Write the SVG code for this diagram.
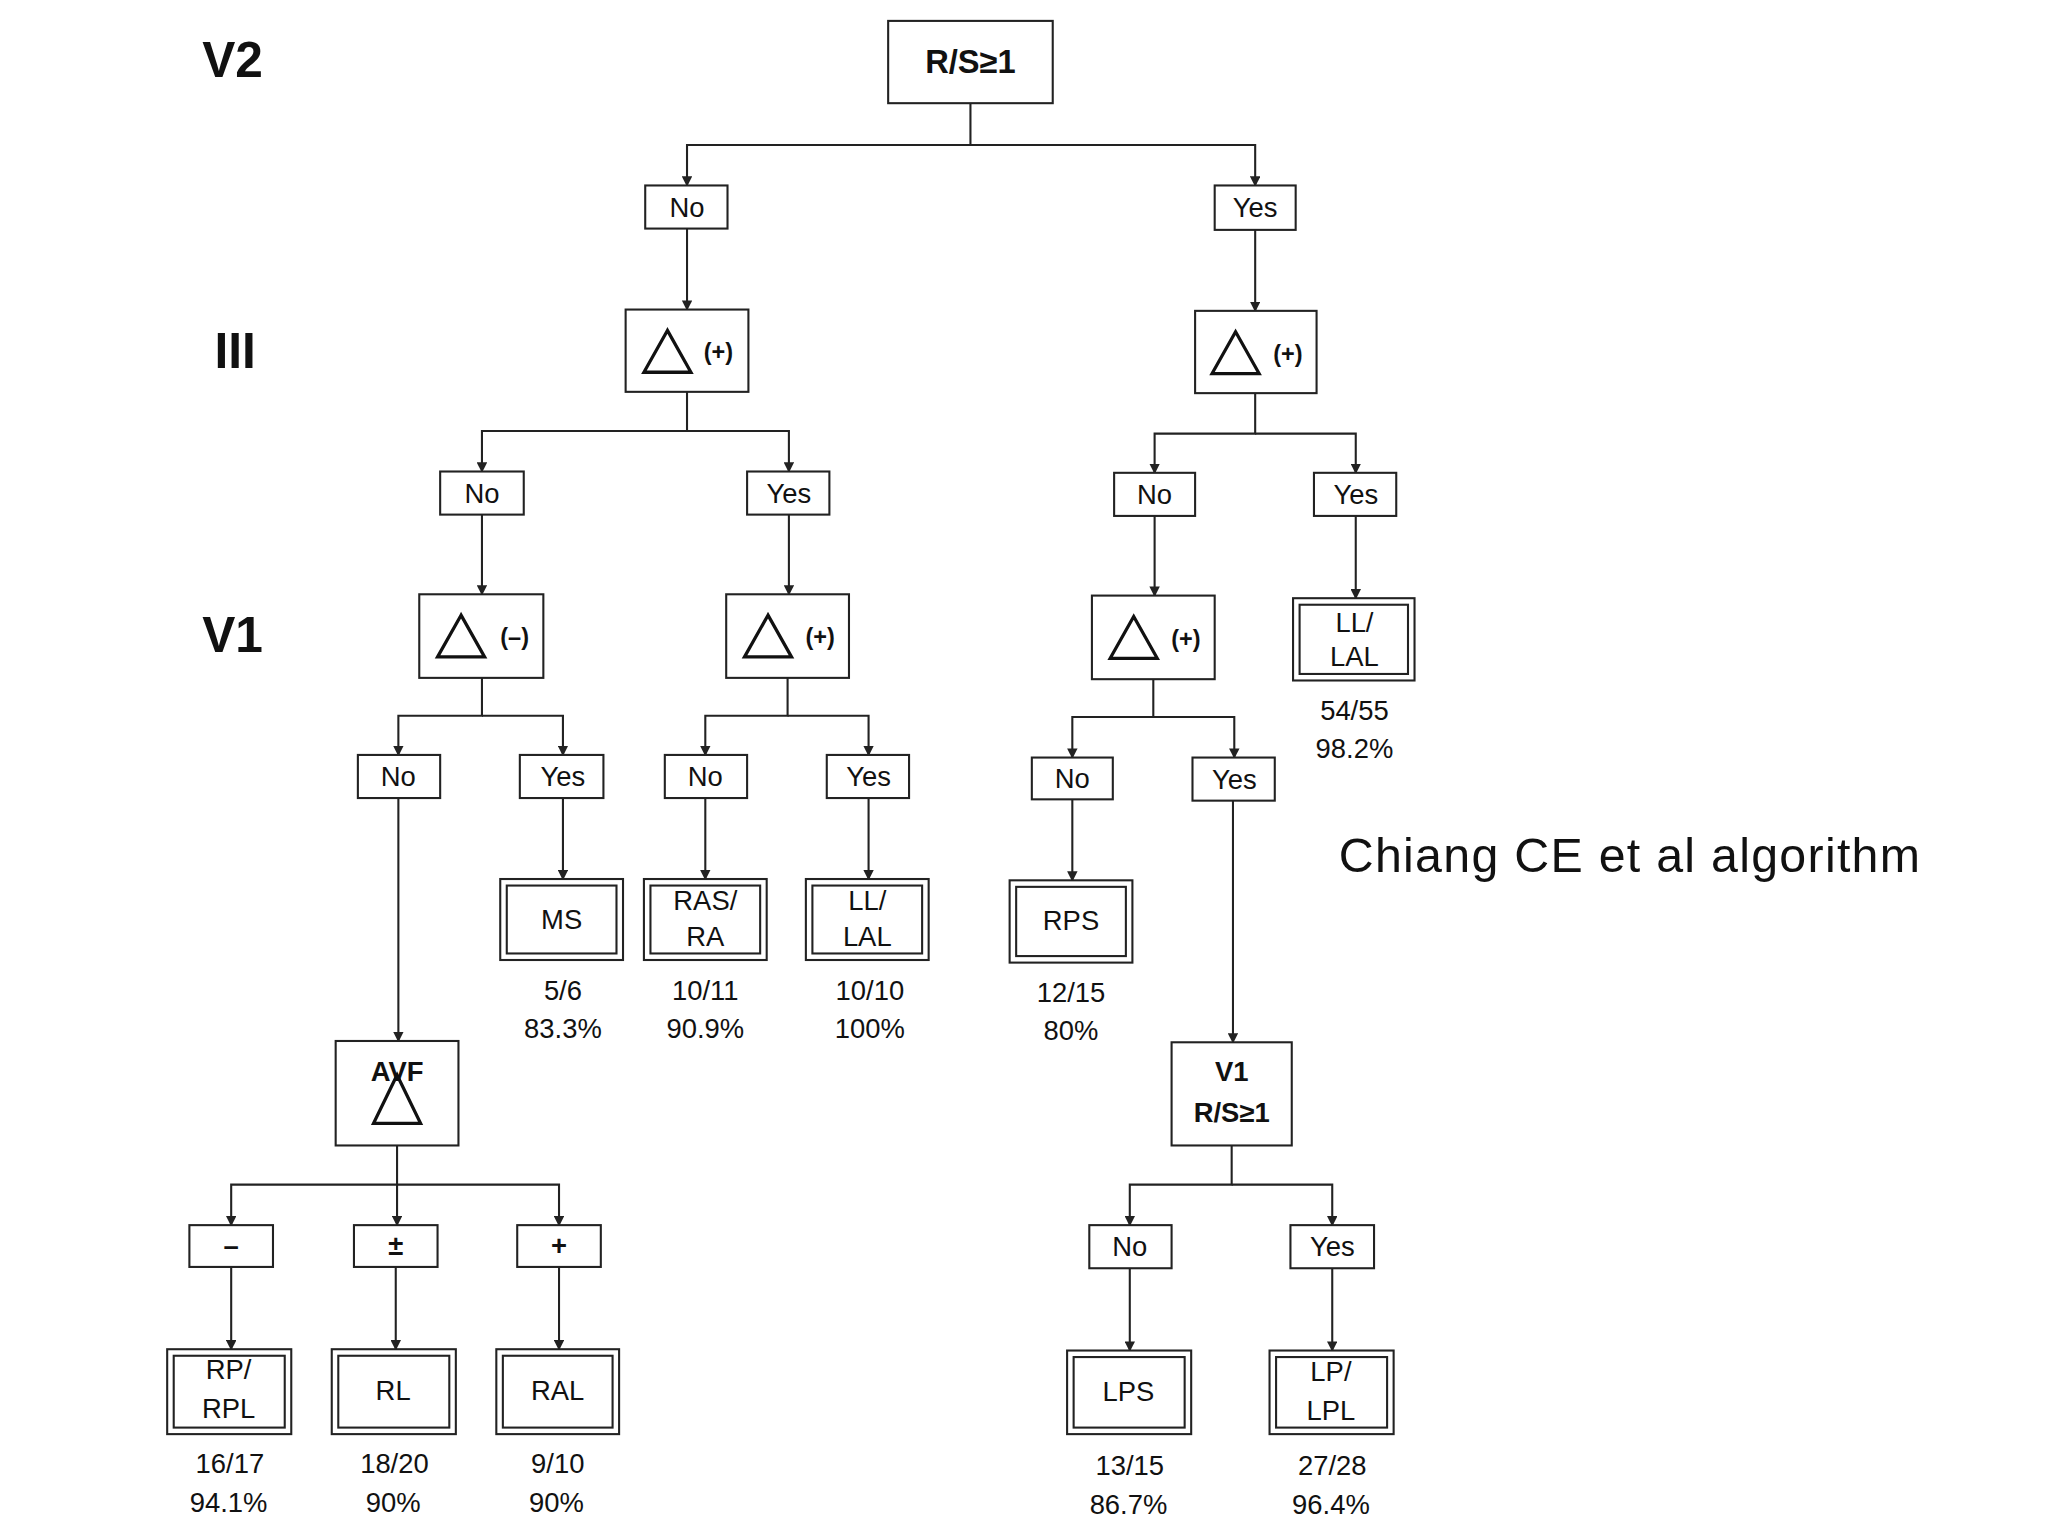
<svg xmlns="http://www.w3.org/2000/svg" width="2048" height="1536" viewBox="0 0 2048 1536">
<style>
.b{fill:#fff;stroke:#222;stroke-width:1.6}
.t{font-family:"Liberation Sans",Arial,sans-serif;font-weight:bold;font-size:21px;fill:#111;text-anchor:middle}
.s{font-family:"Liberation Sans",Arial,sans-serif;font-size:21px;fill:#111;text-anchor:middle}
.L{font-family:"Liberation Sans",Arial,sans-serif;font-weight:bold;font-size:38px;fill:#111;text-anchor:middle}
.c{fill:none;stroke:#222;stroke-width:1.6}
.tri{fill:none;stroke:#111;stroke-width:2.5}
.p{font-size:18px}
.big{font-size:25px}
</style>
<defs>
<marker id="a" markerWidth="8" markerHeight="8" refX="7" refY="4" orient="auto" markerUnits="userSpaceOnUse"><path d="M0,0 L8,4 L0,8 z" fill="#222"/></marker>
</defs>
<rect width="2048" height="1536" fill="#fff"/>
<g transform="scale(1.30612)">
<g id="levels">
<text class="L" x="178" y="59">V2</text>
<text class="L" x="180" y="282">III</text>
<text class="L" x="178" y="499">V1</text>
</g>
<g id="connectors" class="c" marker-end="url(#a)">
<path d="M743,79 V111 H526 V142"/><path d="M743,111 H961 V142"/>
<path d="M526,175 V237"/><path d="M961,176 V238"/>
<path d="M526,300 V330 H369 V361"/><path d="M526,330 H604 V361"/>
<path d="M961,301 V332 H884 V362"/><path d="M961,332 H1038 V362"/>
<path d="M369,394 V455"/><path d="M604,394 V455"/><path d="M884,395 V456"/><path d="M1038,395 V458"/>
<path d="M369,519 V548 H305 V578"/><path d="M369,548 H431 V578"/>
<path d="M603,519 V548 H540 V578"/><path d="M603,548 H665 V578"/>
<path d="M883,520 V549 H821 V580"/><path d="M883,549 H945 V580"/>
<path d="M305,611 V797"/><path d="M431,611 V673"/><path d="M540,611 V673"/><path d="M665,611 V673"/><path d="M821,612 V674"/><path d="M944,613 V798"/>
<path d="M304,877 V907 H177 V938"/><path d="M304,907 V938"/><path d="M304,907 H428 V938"/>
<path d="M943,877 V907 H865 V938"/><path d="M943,907 H1020 V938"/>
<path d="M177,970 V1033"/><path d="M303,970 V1033"/><path d="M428,970 V1033"/>
<path d="M865,971 V1034"/><path d="M1020,971 V1034"/>
</g>
<g id="root"><rect class="b" x="680" y="16" width="126" height="63"/><text class="t big" x="743" y="56">R/S≥1</text></g>
<g id="yn">
<rect class="b" x="494" y="142" width="63" height="33"/><text class="s" x="526" y="166">No</text>
<rect class="b" x="930" y="142" width="62" height="34"/><text class="s" x="961" y="166">Yes</text>
<rect class="b" x="337" y="361" width="64" height="33"/><text class="s" x="369" y="385">No</text>
<rect class="b" x="572" y="361" width="63" height="33"/><text class="s" x="604" y="385">Yes</text>
<rect class="b" x="853" y="362" width="62" height="33"/><text class="s" x="884" y="386">No</text>
<rect class="b" x="1006" y="362" width="63" height="33"/><text class="s" x="1038" y="386">Yes</text>
<rect class="b" x="274" y="578" width="63" height="33"/><text class="s" x="305" y="602">No</text>
<rect class="b" x="398" y="578" width="64" height="33"/><text class="s" x="431" y="602">Yes</text>
<rect class="b" x="509" y="578" width="63" height="33"/><text class="s" x="540" y="602">No</text>
<rect class="b" x="633" y="578" width="63" height="33"/><text class="s" x="665" y="602">Yes</text>
<rect class="b" x="790" y="580" width="62" height="32"/><text class="s" x="821" y="603">No</text>
<rect class="b" x="913" y="580" width="63" height="33"/><text class="s" x="945" y="604">Yes</text>
<rect class="b" x="145" y="938" width="64" height="32"/><text class="t" x="177" y="961">–</text>
<rect class="b" x="271" y="938" width="64" height="32"/><text class="t" x="303" y="961">±</text>
<rect class="b" x="396" y="938" width="64" height="32"/><text class="t" x="428" y="961">+</text>
<rect class="b" x="834" y="938" width="63" height="33"/><text class="s" x="865" y="962">No</text>
<rect class="b" x="988" y="938" width="64" height="33"/><text class="s" x="1020" y="962">Yes</text>
</g>
<g id="deltas">
<rect class="b" x="479" y="237" width="94" height="63"/><polygon class="tri" points="511,253 493,285 529,285"/><text class="t p" x="550" y="276">(+)</text>
<rect class="b" x="915" y="238" width="93" height="63"/><polygon class="tri" points="946,254 928,286 964,286"/><text class="t p" x="986" y="277">(+)</text>
<rect class="b" x="321" y="455" width="95" height="64"/><polygon class="tri" points="353,471 335,503 371,503"/><text class="t p" x="394" y="494">(–)</text>
<rect class="b" x="556" y="455" width="94" height="64"/><polygon class="tri" points="588,471 570,503 606,503"/><text class="t p" x="628" y="494">(+)</text>
<rect class="b" x="836" y="456" width="94" height="64"/><polygon class="tri" points="868,472 850,504 886,504"/><text class="t p" x="908" y="495">(+)</text>
<rect class="b" x="257" y="797" width="94" height="80"/><text class="t" x="304" y="828">AVF</text><polygon class="tri" points="304,823 286,860 322,860"/>
<rect class="b" x="897" y="798" width="92" height="79"/><text class="t" x="943" y="828">V1</text><text class="t" x="943" y="859">R/S≥1</text>
</g>
<g id="leaves">
<rect class="b" x="990" y="458" width="93" height="63"/><rect class="b" x="995" y="463" width="83" height="53"/><text class="s" x="1037" y="484">LL/</text><text class="s" x="1037" y="510">LAL</text>
<text class="s" x="1037" y="551">54/55</text><text class="s" x="1037" y="580">98.2%</text>
<rect class="b" x="383" y="673" width="94" height="62"/><rect class="b" x="388" y="678" width="84" height="52"/><text class="s" x="430" y="711">MS</text>
<text class="s" x="431" y="766">5/6</text><text class="s" x="431" y="795">83.3%</text>
<rect class="b" x="493" y="673" width="94" height="62"/><rect class="b" x="498" y="678" width="84" height="52"/><text class="s" x="540" y="697">RAS/</text><text class="s" x="540" y="724">RA</text>
<text class="s" x="540" y="766">10/11</text><text class="s" x="540" y="795">90.9%</text>
<rect class="b" x="617" y="673" width="94" height="62"/><rect class="b" x="622" y="678" width="84" height="52"/><text class="s" x="664" y="697">LL/</text><text class="s" x="664" y="724">LAL</text>
<text class="s" x="666" y="766">10/10</text><text class="s" x="666" y="795">100%</text>
<rect class="b" x="773" y="674" width="94" height="63"/><rect class="b" x="778" y="679" width="84" height="53"/><text class="s" x="820" y="712">RPS</text>
<text class="s" x="820" y="767">12/15</text><text class="s" x="820" y="796">80%</text>
<rect class="b" x="128" y="1033" width="95" height="65"/><rect class="b" x="133" y="1038" width="85" height="55"/><text class="s" x="175" y="1056">RP/</text><text class="s" x="175" y="1086">RPL</text>
<text class="s" x="176" y="1128">16/17</text><text class="s" x="175" y="1158">94.1%</text>
<rect class="b" x="254" y="1033" width="95" height="65"/><rect class="b" x="259" y="1038" width="85" height="55"/><text class="s" x="301" y="1072">RL</text>
<text class="s" x="302" y="1128">18/20</text><text class="s" x="301" y="1158">90%</text>
<rect class="b" x="380" y="1033" width="94" height="65"/><rect class="b" x="385" y="1038" width="84" height="55"/><text class="s" x="427" y="1072">RAL</text>
<text class="s" x="427" y="1128">9/10</text><text class="s" x="426" y="1158">90%</text>
<rect class="b" x="817" y="1034" width="95" height="64"/><rect class="b" x="822" y="1039" width="85" height="54"/><text class="s" x="864" y="1073">LPS</text>
<text class="s" x="865" y="1129">13/15</text><text class="s" x="864" y="1159">86.7%</text>
<rect class="b" x="972" y="1034" width="95" height="64"/><rect class="b" x="977" y="1039" width="85" height="54"/><text class="s" x="1019" y="1057">LP/</text><text class="s" x="1019" y="1087">LPL</text>
<text class="s" x="1020" y="1129">27/28</text><text class="s" x="1019" y="1159">96.4%</text>
</g>
<text x="1025" y="668" font-family="Liberation Sans,Arial,sans-serif" font-size="37" fill="#111" textLength="445">Chiang CE et al algorithm</text>
</g>
</svg>
